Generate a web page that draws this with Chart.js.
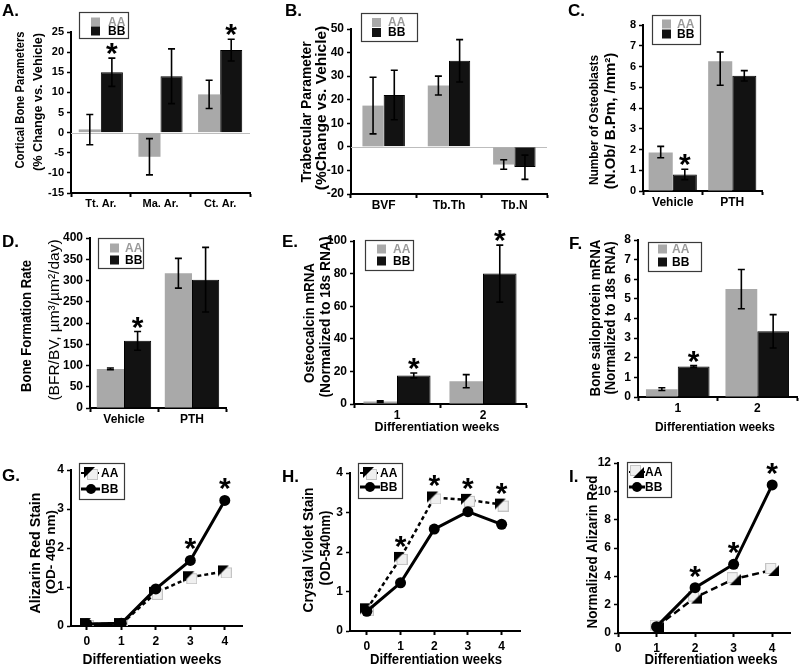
<!DOCTYPE html>
<html>
<head>
<meta charset="utf-8">
<title>AA vs BB bone panels</title>
<script src="https://cdn.jsdelivr.net/npm/chart.js@4.4.1/dist/chart.umd.min.js"></script>
<style>
  html, body { margin: 0; padding: 0; background: #fff; }
  body { position: relative; width: 800px; height: 669px; overflow: hidden; }
  canvas { position: absolute; }
</style>
</head>
<body>
<script>
const FONT = "'Liberation Sans', Arial, Helvetica, sans-serif";
const AA_COLOR = '#a9a9a9';
const BB_COLOR = '#121212';

// ---- A. cortical bone (% change vs vehicle)
const aCats   = ['Tt. Ar.', 'Ma. Ar.', 'Ct. Ar.'];
const aAA     = [0.8, -6, 9.5];
const aBB     = [15, 14, 20.5];
const aAAErr  = [[-3, 4.5], [-10.5, -1.5], [6, 13]];
const aBBErr  = [[11.5, 18.5], [7.2, 20.8], [17.8, 23.2]];
const aTicks  = [-15, -10, -5, 0, 5, 10, 15, 20, 25];
const aStars  = [[1, 0], [1, 2]];   // [series, category]

// ---- B. trabecular
const bCats   = ['BVF', 'Tb.Th', 'Tb.N'];
const bAA     = [17.5, 26, -7.5];
const bBB     = [22, 36.5, -8.5];
const bAAErr  = [[5.5, 29.5], [22, 30], [-9.5, -5.5]];
const bBBErr  = [[11.5, 32.5], [27.5, 45.5], [-13.8, -3.5]];
const bTicks  = [-20, -10, 0, 10, 20, 30, 40, 50];
const bStars  = [];

// ---- C. osteoblasts
const cCats   = ['Vehicle', 'PTH'];
const cAA     = [1.85, 6.25];
const cBB     = [0.8, 5.55];
const cAAErr  = [[1.6, 2.15], [5.1, 6.7]];
const cBBErr  = [[0.55, 1.05], [5.3, 5.8]];
const cTicks  = [0, 1, 2, 3, 4, 5, 6, 7, 8];
const cStars  = [[1, 0]];

// ---- D. bone formation rate
const dCats   = ['Vehicle', 'PTH'];
const dAA     = [92, 317];
const dBB     = [158, 302];
const dAAErr  = [[90, 94], [282, 352]];
const dBBErr  = [[136, 180], [226, 378]];
const dTicks  = [0, 50, 100, 150, 200, 250, 300, 350, 400];
const dStars  = [[1, 0]];

// ---- E. osteocalcin mRNA
const eCats   = ['1', '2'];
const eAA     = [1.5, 14];
const eBB     = [17.5, 80];
const eAAErr  = [[1, 2], [10, 18]];
const eBBErr  = [[16, 19], [62.5, 97.5]];
const eTicks  = [0, 20, 40, 60, 80, 100];
const eStars  = [[1, 0], [1, 1]];

// ---- F. bone sialoprotein mRNA
const fCats   = ['1', '2'];
const fAA     = [0.4, 5.5];
const fBB     = [1.55, 3.35];
const fAAErr  = [[0.33, 0.47], [4.5, 6.5]];
const fBBErr  = [[1.5, 1.6], [2.5, 4.2]];
const fTicks  = [0, 1, 2, 3, 4, 5, 6, 7, 8];
const fStars  = [[1, 0]];

// ---- G. alizarin red stain
const gWeeks  = [0, 1, 2, 3, 4];
const gAA     = [0.05, 0.05, 0.85, 1.25, 1.4];
const gBB     = [0.05, 0.07, 0.95, 1.68, 3.22];
const gYTicks = [0, 1, 2, 3, 4];
const gXTicks = [0, 1, 2, 3, 4];
const gStars  = [[1, 3], [1, 4]];

// ---- H. crystal violet stain
const hWeeks  = [0, 1, 2, 3, 4];
const hAA     = [0.55, 1.85, 3.38, 3.32, 3.2];
const hBB     = [0.5, 1.22, 2.58, 3.02, 2.7];
const hYTicks = [0, 1, 2, 3, 4];
const hXTicks = [0, 1, 2, 3, 4];
const hStars  = [[0, 1], [0, 2], [0, 3], [0, 4]];

// ---- I. normalized alizarin red
const iWeeks  = [1, 2, 3, 4];
const iAA     = [0.45, 2.5, 3.8, 4.45];
const iBB     = [0.45, 3.2, 4.85, 10.45];
const iYTicks = [0, 2, 4, 6, 8, 10, 12];
const iXTicks = [0, 1, 2, 3, 4];
const iStars  = [[1, 1], [1, 2], [1, 3]];

// AA marker: black half-triangle over a pale square
function aaMarker(flip) {
  const c = document.createElement('canvas');
  c.width = 14; c.height = 14;
  const g = c.getContext('2d');
  g.fillStyle = '#f0f0f0'; g.strokeStyle = '#c4c4c4'; g.lineWidth = 1;
  if (!flip) { g.fillRect(3.5, 3.5, 10, 10); g.strokeRect(3.5, 3.5, 10, 10); }
  else { g.fillRect(0.5, 0.5, 10, 10); g.strokeRect(0.5, 0.5, 10, 10); }
  g.fillStyle = '#000';
  g.beginPath();
  if (!flip) { g.moveTo(0, 1); g.lineTo(11, 1); g.lineTo(0, 12); }
  else { g.moveTo(14, 2); g.lineTo(14, 13); g.lineTo(3, 13); }
  g.closePath(); g.fill();
  return c;
}
const markTL = aaMarker(false);
const markBR = aaMarker(true);

const panels = [
  { kind: 'bar', letter: 'A.', letterAt: [2, 16], box: { x: 0, y: 0, w: 265, h: 212 }, area: { l: 71, t: 32, r: 250, b: 193 },
    labels: aCats, aa: aAA, bb: aBB, errs: [aAAErr, aBBErr], stars: aStars, yTicks: aTicks, cat: 0.74, zero: true, tickSize: 11, catSize: 11,
    yTitle: [{ text: 'Cortical Bone Parameters', x: 20, y: 100, size: 13.5, len: 137 },
             { text: '(% Change vs. Vehicle)', x: 38, y: 102, size: 13.5, len: 138 }],
    legend: { x: 79, y: 12, w: 49, h: 26, sx: 91, tx: 108, rows: [22, 31] } },
  { kind: 'bar', letter: 'B.', letterAt: [285, 16], box: { x: 265, y: 0, w: 285, h: 212 }, area: { l: 351, t: 29, r: 547, b: 194 },
    labels: bCats, aa: bAA, bb: bBB, errs: [bAAErr, bBBErr], stars: bStars, yTicks: bTicks, cat: 0.65, zero: true,
    yTitle: [{ text: 'Trabecular Parameter', x: 307, y: 112, size: 14.5, len: 141 },
             { text: '(%Change vs. Vehicle)', x: 322, y: 108, size: 15.5, len: 167 }],
    legend: { x: 361, y: 13, w: 56, h: 28, sx: 372, tx: 388, rows: [22.5, 32.5] } },
  { kind: 'bar', letter: 'C.', letterAt: [568, 16], box: { x: 530, y: 0, w: 270, h: 212 }, area: { l: 643, t: 25, r: 762, b: 191 },
    labels: cCats, aa: cAA, bb: cBB, errs: [cAAErr, cBBErr], stars: cStars, yTicks: cTicks, cat: 0.81, tickSize: 11,
    yTitle: [{ text: 'Number of Osteoblasts', x: 594, y: 120, size: 13.5, len: 130 },
             { text: '(N.Ob/ B.Pm, /mm\u00b2)', x: 611, y: 121, size: 15, len: 142 }],
    legend: { x: 652, y: 15, w: 48, h: 29, sx: 662, tx: 677, rows: [24, 34] } },
  { kind: 'bar', letter: 'D.', letterAt: [2, 247], box: { x: 0, y: 212, w: 265, h: 218 }, area: { l: 90, t: 238, r: 226, b: 408 },
    labels: dCats, aa: dAA, bb: dBB, errs: [dAAErr, dBBErr], stars: dStars, yTicks: dTicks, cat: 0.8,
    yTitle: [{ text: 'Bone Formation Rate', x: 27, y: 326, size: 14, len: 132 },
             { text: '(BFR/BV, \u00b5m\u00b3/\u00b5m\u00b2/day)', x: 55, y: 320, size: 15.5, len: 165, weight: 'normal' }],
    legend: { x: 98, y: 238, w: 45, h: 30, sx: 110, tx: 125, rows: [248, 260] } },
  { kind: 'bar', letter: 'E.', letterAt: [282, 247], box: { x: 265, y: 212, w: 270, h: 226 }, area: { l: 354, t: 241, r: 526, b: 404 },
    labels: eCats, aa: eAA, bb: eBB, errs: [eAAErr, eBBErr], stars: eStars, yTicks: eTicks, cat: 0.78,
    yTitle: [{ text: 'Osteocalcin mRNA', x: 310, y: 323, size: 14, len: 120 },
             { text: '(Normalized to 18s RNA)', x: 326, y: 317, size: 14.5, len: 161 }],
    xTitle: { text: 'Differentiation weeks', x: 437, y: 428, size: 12.5, len: 125 },
    legend: { x: 365, y: 240, w: 48, h: 30, sx: 377, tx: 393, rows: [249, 261] } },
  { kind: 'bar', letter: 'F.', letterAt: [569, 249], box: { x: 530, y: 212, w: 270, h: 226 }, area: { l: 638, t: 240, r: 797, b: 397 },
    labels: fCats, aa: fAA, bb: fBB, errs: [fAAErr, fBBErr], stars: fStars, yTicks: fTicks, cat: 0.8,
    yTitle: [{ text: 'Bone sailoprotein mRNA', x: 596, y: 318, size: 14, len: 157 },
             { text: '(Normalized to 18s RNA)', x: 611, y: 318, size: 14, len: 153 }],
    xTitle: { text: 'Differentiation weeks', x: 715, y: 428, size: 12, len: 120 },
    legend: { x: 648, y: 242, w: 53, h: 29, sx: 658, tx: 672, rows: [249, 262] } },
  { kind: 'line', letter: 'G.', letterAt: [2, 481], box: { x: 0, y: 438, w: 265, h: 231 }, area: { l: 71, t: 470, r: 242, b: 626 },
    weeks: gWeeks, aa: gAA, bb: gBB, stars: gStars, yTicks: gYTicks, xTicks: gXTicks, xMin: -0.46, xMax: 4.5,
    marker: markTL, dash: [4, 3],
    yTitle: [{ text: 'Alizarin Red Stain', x: 36, y: 553, size: 15, len: 121 },
             { text: '(OD- 405 nm)', x: 51, y: 552, size: 13.5, len: 89 }],
    xTitle: { text: 'Differentiation weeks', x: 152, y: 660, size: 14, len: 139 },
    legend: { x: 79, y: 463, w: 45, h: 36, lx1: 81, lx2: 100, mx: 91, tx: 101, rows: [473, 489] } },
  { kind: 'line', letter: 'H.', letterAt: [282, 482], box: { x: 265, y: 438, w: 265, h: 231 }, area: { l: 350, t: 473, r: 522, b: 631 },
    weeks: hWeeks, aa: hAA, bb: hBB, stars: hStars, yTicks: hYTicks, xTicks: hXTicks, xMin: -0.5, xMax: 4.56,
    marker: markTL, dash: [4, 3],
    yTitle: [{ text: 'Crystal Violet Stain', x: 309, y: 550, size: 14.5, len: 125 },
             { text: '(OD-540nm)', x: 326, y: 548, size: 14, len: 75 }],
    xTitle: { text: 'Differentiation weeks', x: 436, y: 660, size: 14, len: 132 },
    legend: { x: 358, y: 463, w: 44, h: 35, lx1: 360, lx2: 380, mx: 370, tx: 380, rows: [473, 487] } },
  { kind: 'line', letter: 'I.', letterAt: [569, 482], box: { x: 530, y: 438, w: 270, h: 231 }, area: { l: 618, t: 463, r: 797, b: 633 },
    weeks: iWeeks, aa: iAA, bb: iBB, stars: iStars, yTicks: iYTicks, xTicks: iXTicks, xMin: 0, xMax: 4.475,
    marker: markBR, dash: [7, 4],
    yTitle: [{ text: 'Normalized Alizarin Red', x: 593, y: 552, size: 14.5, len: 153 }],
    xTitle: { text: 'Differentiation weeks', x: 711, y: 660, size: 14, len: 133 },
    legend: { x: 627, y: 462, w: 44, h: 35, lx1: 629, lx2: 645, mx: 637, tx: 645, rows: [472, 487] } },
];

function addCanvas(box) {
  const cv = document.createElement('canvas');
  cv.width = box.w; cv.height = box.h;
  cv.style.left = box.x + 'px'; cv.style.top = box.y + 'px';
  cv.style.width = box.w + 'px'; cv.style.height = box.h + 'px';
  document.body.appendChild(cv);
  return cv;
}

const font = (size, weight) => ({ family: FONT, size, weight });

function yAxis(p) {
  return {
    min: p.yTicks[0], max: p.yTicks[p.yTicks.length - 1],
    afterBuildTicks: s => { s.ticks = p.yTicks.map(v => ({ value: v })); },
    afterFit: s => { s.width = p.area.l - p.box.x; },
    border: { color: '#000', width: 2 },
    grid: { drawOnChartArea: false, tickLength: 4, tickColor: '#000', tickWidth: 1.5 },
    ticks: { color: '#000', font: font(p.tickSize || 12, 'bold'), padding: 3 },
  };
}

function xAxis(p) {
  const ax = {
    afterFit: s => { s.height = p.box.y + p.box.h - p.area.b; },
    border: { color: '#000', width: 2 },
    grid: { drawOnChartArea: false, tickLength: 4, tickColor: '#000', tickWidth: 2 },
    ticks: { color: '#000', font: font(p.catSize || 12, 'bold'), padding: 0, maxRotation: 0, autoSkip: false },
  };
  if (p.kind === 'line') {
    Object.assign(ax, { type: 'linear', min: p.xMin, max: p.xMax,
      afterBuildTicks: s => { s.ticks = p.xTicks.map(v => ({ value: v })); } });
    ax.ticks.padding = 4;
  }
  return ax;
}

function starFont(ctx) {
  ctx.font = `bold 30px ${FONT}`;
  ctx.textAlign = 'center';
  ctx.textBaseline = 'alphabetic';
  return ctx.measureText('*').actualBoundingBoxDescent;
}

function drawLegend(ctx, p) {
  const L = p.legend;
  ctx.fillStyle = '#fff';
  ctx.fillRect(L.x, L.y, L.w, L.h);
  ctx.strokeStyle = '#3a3a3a'; ctx.lineWidth = 1.2; ctx.setLineDash([]);
  ctx.strokeRect(L.x + 0.5, L.y + 0.5, L.w, L.h);
  ctx.font = `bold 12px ${FONT}`;
  ctx.textAlign = 'left'; ctx.textBaseline = 'middle';
  ['AA', 'BB'].forEach((name, k) => {
    const ry = L.rows[k];
    if (p.kind === 'bar') {
      ctx.fillStyle = k ? BB_COLOR : AA_COLOR;
      ctx.fillRect(L.sx, ry - 4.5, 9, 9);
      ctx.fillStyle = k ? '#000' : '#9a9a9a';
    } else {
      ctx.strokeStyle = '#000'; ctx.lineWidth = k ? 3 : 2;
      ctx.setLineDash(k ? [] : [3, 2]);
      ctx.beginPath(); ctx.moveTo(L.lx1, ry); ctx.lineTo(L.lx2, ry); ctx.stroke();
      ctx.setLineDash([]);
      if (k) {
        ctx.fillStyle = '#000';
        ctx.beginPath(); ctx.arc(L.mx, ry, 5, 0, Math.PI * 2); ctx.fill();
      } else {
        ctx.drawImage(p.marker, L.mx - p.marker.width / 2, ry - p.marker.height / 2);
      }
      ctx.fillStyle = '#000';
    }
    ctx.fillText(name, L.tx, ry + 0.5);
  });
}

function extras(p) {
  return {
    id: 'extras',
    beforeDatasetsDraw(chart) {
      if (!p.zero) return;
      const { ctx, chartArea: a, scales } = chart;
      const y0 = Math.round(scales.y.getPixelForValue(0)) + 0.5;
      ctx.save();
      ctx.strokeStyle = '#bdbdbd'; ctx.lineWidth = 1;
      ctx.beginPath(); ctx.moveTo(a.left, y0); ctx.lineTo(a.right, y0); ctx.stroke();
      ctx.restore();
    },
    afterDatasetsDraw(chart) {
      const { ctx, scales } = chart;
      ctx.save();
      ctx.strokeStyle = '#000'; ctx.fillStyle = '#000'; ctx.lineWidth = 1.6;
      if (p.kind === 'bar') {
        p.errs.forEach((set, d) => {
          const meta = chart.getDatasetMeta(d);
          set.forEach(([lo, hi], i) => {
            const x = meta.data[i].x;
            const y1 = scales.y.getPixelForValue(lo), y2 = scales.y.getPixelForValue(hi);
            ctx.beginPath();
            ctx.moveTo(x, y1); ctx.lineTo(x, y2);
            ctx.moveTo(x - 3.5, y1); ctx.lineTo(x + 3.5, y1);
            ctx.moveTo(x - 3.5, y2); ctx.lineTo(x + 3.5, y2);
            ctx.stroke();
          });
        });
      }
      const desc = starFont(ctx);
      p.stars.forEach(([s, i]) => {
        let x, bottom;
        if (p.kind === 'bar') {
          x = chart.getDatasetMeta(s).data[i].x;
          bottom = scales.y.getPixelForValue(p.errs[s][i][1]) - 3;
        } else {
          const vals = s ? p.bb : p.aa;
          x = scales.x.getPixelForValue(p.weeks[i]);
          bottom = scales.y.getPixelForValue(vals[i]) - 10;
        }
        ctx.fillText('*', x, bottom - desc);
      });
      ctx.restore();
    },
    afterDraw(chart) {
      const ctx = chart.ctx;
      ctx.save();
      ctx.translate(-p.box.x, -p.box.y);
      ctx.fillStyle = '#000';
      ctx.font = `bold 17px ${FONT}`;
      ctx.textAlign = 'left'; ctx.textBaseline = 'alphabetic';
      ctx.fillText(p.letter, p.letterAt[0], p.letterAt[1]);
      ctx.textAlign = 'center'; ctx.textBaseline = 'middle';
      p.yTitle.forEach(t => {
        ctx.save();
        ctx.translate(t.x, t.y); ctx.rotate(-Math.PI / 2);
        ctx.font = `${t.weight || 'bold'} ${t.size}px ${FONT}`;
        ctx.fillText(t.text, 0, 0, t.len);
        ctx.restore();
      });
      if (p.xTitle) {
        const t = p.xTitle;
        ctx.font = `bold ${t.size}px ${FONT}`;
        ctx.fillText(t.text, t.x, t.y, t.len);
      }
      drawLegend(ctx, p);
      ctx.restore();
    },
  };
}

function barPanel(p) {
  const pad = { left: 0, bottom: 0, top: p.area.t - p.box.y, right: p.box.x + p.box.w - p.area.r };
  new Chart(addCanvas(p.box), {
    type: 'bar',
    data: {
      labels: p.labels,
      datasets: [
        { label: 'AA', data: p.aa, backgroundColor: AA_COLOR, borderWidth: 0,
          categoryPercentage: p.cat, barPercentage: 1 },
        { label: 'BB', data: p.bb, backgroundColor: BB_COLOR, borderColor: '#000', borderWidth: 1,
          categoryPercentage: p.cat, barPercentage: 1 },
      ],
    },
    options: {
      responsive: false, animation: false, events: [],
      layout: { padding: pad },
      plugins: { legend: { display: false }, tooltip: { enabled: false } },
      scales: { x: xAxis(p), y: yAxis(p) },
    },
    plugins: [extras(p)],
  });
}

function linePanel(p) {
  const pad = { left: 0, bottom: 0, top: p.area.t - p.box.y, right: p.box.x + p.box.w - p.area.r };
  const pts = vals => p.weeks.map((w, i) => ({ x: w, y: vals[i] }));
  new Chart(addCanvas(p.box), {
    type: 'line',
    data: {
      datasets: [
        { label: 'BB', data: pts(p.bb), borderColor: '#000', borderWidth: 3, order: 0,
          pointRadius: 5.5, pointBackgroundColor: '#000', pointBorderColor: '#000', pointBorderWidth: 0 },
        { label: 'AA', data: pts(p.aa), borderColor: '#000', borderWidth: 2.5, borderDash: p.dash, order: 1,
          pointStyle: p.marker, pointRadius: 7 },
      ],
    },
    options: {
      responsive: false, animation: false, events: [],
      layout: { padding: pad },
      plugins: { legend: { display: false }, tooltip: { enabled: false } },
      scales: { x: xAxis(p), y: yAxis(p) },
    },
    plugins: [extras(p)],
  });
}

panels.forEach(p => (p.kind === 'bar' ? barPanel(p) : linePanel(p)));
</script>
</body>
</html>
